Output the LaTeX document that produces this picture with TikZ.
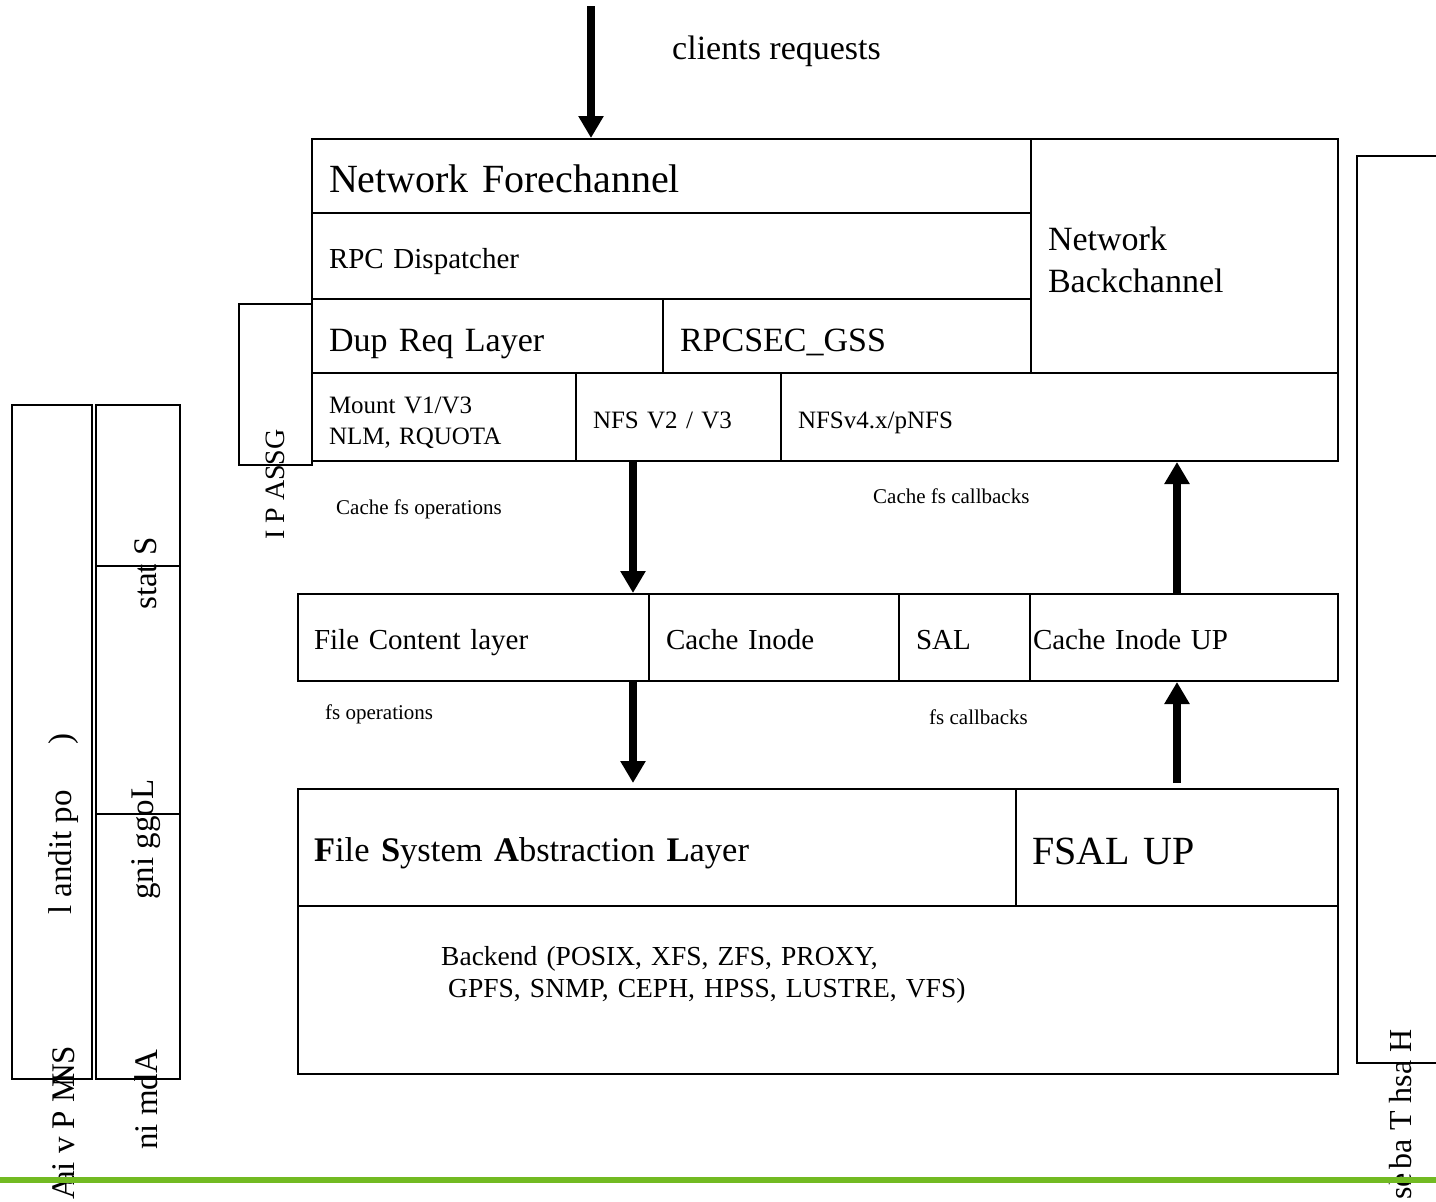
\documentclass[tikz,border=0pt]{standalone}
\usepackage{fontspec}
\setmainfont{Liberation Serif}
\usetikzlibrary{arrows.meta}
\newcommand\fsz[2]{\fontsize{#1pt}{#2pt}\selectfont}
\definecolor{lgreen}{RGB}{114,186,34}
\begin{document}
\begin{tikzpicture}[x=1pt,y=-1pt,
 box/.style={draw, line width=2pt, anchor=north west, inner xsep=17pt, inner ysep=0pt, align=left, text depth=0pt},
 plain/.style={draw, line width=2pt, anchor=north west, inner sep=0pt},
 lbl/.style={anchor=base west, inner sep=0pt},
 vlbl/.style={anchor=west, inner sep=0pt, rotate=90, font=\fsz{33}{40}},
 bigarrow/.style={line width=8pt, -{Triangle[width=24pt,length=22pt]}}]
\useasboundingbox (0,0) rectangle (1436,1202);

% main stack
\node[box, minimum width=719, minimum height=74, text width=685pt, text height=32pt, font=\fsz{40}{48}] (nf) at (311,138) {Network Forechannel};
\node[box, minimum width=719, minimum height=86, text width=685pt, text height=24pt, font=\fsz{29}{34}] (rpc) at (311,212) {RPC Dispatcher};
\node[box, minimum width=351, minimum height=74, text width=317pt, text height=30pt, font=\fsz{34}{40}] (dup) at (311,298) {Dup Req Layer};
\node[box, minimum width=368, minimum height=74, text width=334pt, text height=30pt, font=\fsz{34}{40}] (gss) at (662,298) {RPCSEC\_GSS};
\node[box, minimum width=307, minimum height=234, text width=273pt, text height=20pt, text depth=32pt, font=\fsz{34}{42}] (nbc) at (1030,138) {Network\\Backchannel};
\node[box, minimum width=264, minimum height=88, text width=230pt, text height=16pt, text depth=24pt, font=\fsz{25}{31}] (mnt) at (311,372) {Mount V1/V3\\NLM, RQUOTA};
\node[box, minimum width=205, minimum height=88, text width=171pt, text height=22pt, font=\fsz{25}{31}] (nfs3) at (575,372) {NFS V2 / V3};
\node[box, minimum width=557, minimum height=88, text width=523pt, text height=22pt, font=\fsz{25}{31}] (nfs4) at (780,372) {NFSv4.x/pNFS};

\node[box, minimum width=351, minimum height=87, text width=319pt, inner xsep=16pt, text height=23pt, font=\fsz{29}{34}] (fcl) at (297,593) {File Content layer};
\node[box, minimum width=250, minimum height=87, text width=216pt, text height=23pt, font=\fsz{29}{34}] (ci) at (648,593) {Cache Inode};
\node[box, minimum width=131, minimum height=87, text width=97pt, text height=23pt, font=\fsz{29}{34}] (sal) at (898,593) {SAL};
\node[box, minimum width=308, minimum height=87, text width=302pt, inner xsep=3pt, text height=23pt, font=\fsz{29}{34}] (ciu) at (1029,593) {Cache Inode UP};

\node[box, minimum width=718, minimum height=117, text width=686pt, inner xsep=16pt, text height=27pt, font=\fsz{34.5}{40}] (fsal) at (297,788) {\textbf{F}ile \textbf{S}ystem \textbf{A}bstraction \textbf{L}ayer};
\node[box, minimum width=322, minimum height=117, text width=290pt, inner xsep=16pt, text height=33pt, font=\fsz{40}{48}] (fup) at (1015,788) {FSAL UP};
\node[plain, minimum width=1040, minimum height=168] (be) at (297,905) {};
\node[lbl, font=\fsz{27.5}{32}, text width=700pt, align=left] (betxt) at (441,965) {Backend (POSIX, XFS, ZFS, PROXY,\\\hspace*{7pt}GPFS, SNMP, CEPH, HPSS, LUSTRE, VFS)};

% side boxes
\node[plain, minimum width=80, minimum height=674] (snmp) at (11,404) {};
\node[plain, minimum width=84, minimum height=161] (stats) at (95,404) {};
\node[plain, minimum width=84, minimum height=248] (logg) at (95,565) {};
\node[plain, minimum width=84, minimum height=265] (admin) at (95,813) {};
\node[plain, minimum width=73, minimum height=161] (gssapi) at (238,303) {};
\node[plain, minimum width=90, minimum height=907] (hash) at (1356,155) {};

% rotated labels
\node[vlbl] (t1) at (64,1200) {A\kern-.3em ai v P M\kern-.45em NS};
\node[vlbl] (t2) at (64,915) {l andit po};
\node[vlbl] (t3) at (64,745) {)};
\node[vlbl] (t4) at (146,1150) {ni mdA};
\node[vlbl] (t5) at (146,900) {gni ggoL};
\node[vlbl] (t6) at (146,610) {stat S};
\node[vlbl, font=\fsz{28}{34}] (t7) at (275,540) {I P ASSG};
\node[vlbl, font=\fsz{32}{38}] (t8) at (1401,1200) {se\kern-.4em l ba T hsa H};

% labels
\node[lbl, font=\fsz{34}{40}] (creq) at (672,59) {clients requests};
\node[lbl, font=\fsz{21}{25}] (cfo) at (336,514) {Cache fs operations};
\node[lbl, font=\fsz{21}{25}] (cfc) at (873,503) {Cache fs callbacks};
\node[lbl, font=\fsz{21}{25}] (fso) at (325,719) {fs operations};
\node[lbl, font=\fsz{21}{25}] (fsc) at (929,724) {fs callbacks};

% arrows
\coordinate (cin) at (591,6);
\coordinate (xl) at (633,0);
\coordinate (xr) at (1177,0);
\draw[bigarrow] (cin) -- (cin |- nf.north);
\draw[bigarrow] (xl |- mnt.south) -- (xl |- fcl.north);
\draw[bigarrow] (xr |- ciu.north) -- (xr |- nfs4.south);
\draw[bigarrow, shorten >=5pt] (xl |- fcl.south) -- (xl |- fsal.north);
\draw[bigarrow, shorten <=5pt] (xr |- fup.north) -- (xr |- ciu.south);

% green rule
\draw[lgreen, line width=6pt] (0,1180) -- (1436,1180);
\end{tikzpicture}
\end{document}
